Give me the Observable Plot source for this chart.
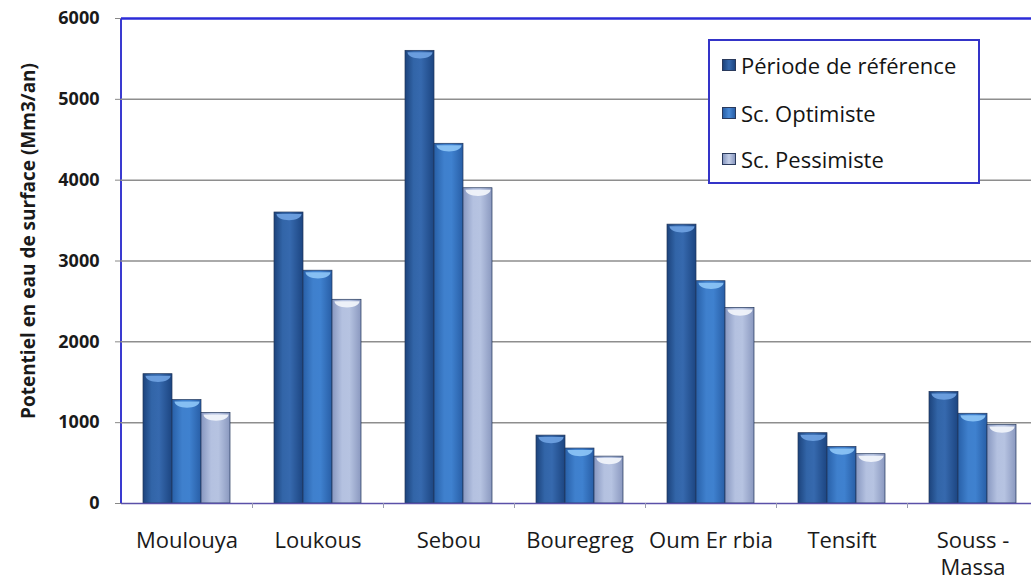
<!DOCTYPE html>
<html>
<head>
<meta charset="utf-8">
<script src="https://cdn.jsdelivr.net/npm/d3@7"></script>
<script src="https://cdn.jsdelivr.net/npm/@observablehq/plot@0.6"></script>
<style>
  body { margin: 0; background: #fff; }
  #wrap { position: relative; width: 1031px; height: 581px; overflow: hidden; font-family: "Open Sans", sans-serif; background:#fff; }
  #legend { position: absolute; left: 708px; top: 39px; width: 272px; height: 145px; border: 2px solid #3434c8; background: #fff; box-sizing: border-box; }
  .item { position: absolute; left: 12px; height: 30px; display: flex; align-items: center; font-size: 22px; color: #141414; white-space: nowrap; }
  .sw { width: 14px; height: 12px; margin-right: 5px; border: 1px solid #2a3a5c; box-sizing: border-box; }
</style>
</head>
<body>
<div id="wrap">
  <div id="chart"></div>
  <div id="legend"></div>
</div>
<script>
// ---- data ----
const regions = ["Moulouya", "Loukous", "Sebou", "Bouregreg", "Oum Er rbia", "Tensift", "Souss -\nMassa"];
const seriesNames = ["Période de référence", "Sc. Optimiste", "Sc. Pessimiste"];
const periodeReference = [1600, 3600, 5600, 840, 3450, 870, 1380];
const scOptimiste     = [1280, 2880, 4450, 680, 2750, 700, 1110];
const scPessimiste    = [1120, 2520, 3900, 580, 2420, 610, 970];
const yTicks = [0, 1000, 2000, 3000, 4000, 5000, 6000];
const gridTicks = [1000, 2000, 3000, 4000, 5000];
const yTitle = "Potentiel en eau de surface (Mm3/an)";

// ---- styles ----
const gradStops = [
  [["0%", "#1c437c"], ["30%", "#3265a8"], ["55%", "#3669ae"], ["100%", "#1c4581"]],
  [["0%", "#2860a8"], ["35%", "#3f80cd"], ["60%", "#3f81cf"], ["100%", "#285ea6"]],
  [["0%", "#8797c0"], ["35%", "#b4c1e0"], ["60%", "#b6c3e1"], ["100%", "#8a98bf"]]
];
const capColors = ["#6fa2e2", "#8cc4f6", "#f2f5fb"];
const legendBg = [
  "linear-gradient(90deg,#1c437c,#3669ae,#1c4581)",
  "linear-gradient(90deg,#2860a8,#4a8ad6,#285ea6)",
  "linear-gradient(90deg,#8797c0,#c4cfe8,#8a98bf)"
];

const allValues = [periodeReference, scOptimiste, scPessimiste];
const rowsBySeries = allValues.map((vals, s) =>
  regions.map((r, i) => ({region: r, series: seriesNames[s], value: vals[i]}))
);

// half-ellipse cap symbol (top of cylinder)
const capSymbol = {
  draw(ctx, size) {
    const r = Math.sqrt(size / Math.PI);
    const ry = r * 0.5, k = 0.5523;
    ctx.moveTo(-r, 0);
    ctx.bezierCurveTo(-r, k * ry, -k * r, ry, 0, ry);
    ctx.bezierCurveTo(k * r, ry, r, k * ry, r, 0);
    ctx.closePath();
  }
};

const step = 131, barW = 29;
const inset = (step - barW) / 2;

function defsAndFrame(index, scales, values, dims) {
  const g = d3.create("svg:g");
  const defs = g.append("defs");
  gradStops.forEach((stops, i) => {
    const lg = defs.append("linearGradient").attr("id", "grad" + i)
      .attr("x1", "0").attr("x2", "1").attr("y1", "0").attr("y2", "0");
    stops.forEach(([o, c]) => lg.append("stop").attr("offset", o).attr("stop-color", c));
  });
  g.append("line")
    .attr("x1", dims.marginLeft).attr("x2", dims.marginLeft)
    .attr("y1", dims.marginTop).attr("y2", dims.height - dims.marginBottom)
    .attr("stroke", "#3a3ad0").attr("stroke-width", 2);
  return g.node();
}

const marks = [
  defsAndFrame,
  Plot.ruleY(gridTicks, {stroke: "#8e8e8e", strokeWidth: 1.5}),
  Plot.ruleY([6000], {stroke: "#2c2cd8", strokeWidth: 2.5})
];
rowsBySeries.forEach((rows, s) => {
  const dx = (s - 1) * barW;
  marks.push(Plot.barY(rows, {
    x: "region", y: "value", dx,
    insetLeft: inset, insetRight: inset,
    fill: `url(#grad${s})`, stroke: "#22365a", strokeWidth: 0.7
  }));
  marks.push(Plot.dot(rows, {
    x: "region", y: "value", dx, dy: 1.5, r: 12.5,
    symbol: capSymbol, fill: capColors[s], fillOpacity: 0.92, stroke: "none"
  }));
});
marks.push(
  Plot.ruleY([0], {stroke: "#5a50a8", strokeWidth: 1.5}),
  Plot.axisY({ticks: yTicks, tickSize: 6, tickPadding: 16, fontSize: 18, fontWeight: "bold",
    fill: "#1a1a1a", stroke: "#888", label: null, tickFormat: d => String(d)}),
  Plot.text([yTitle], {frameAnchor: "left", textAnchor: "middle", dx: -93, dy: -20, rotate: -90,
    fontSize: 19, fontWeight: "bold", fill: "#1a1a1a", text: d => d}),
  Plot.axisX({tickSize: 0, tickPadding: 26, fontSize: 22, lineHeight: 1.2, fill: "#1a1a1a", label: null}),
  Plot.axisX({tickSize: 5, tickFormat: () => "", dx: step / 2, stroke: "#9a9ab0", label: null})
);

const chart = Plot.plot({
  width: 1031,
  height: 581,
  marginTop: 18,
  marginBottom: 78,
  marginLeft: 121,
  marginRight: 0,
  style: {fontFamily: "'Open Sans', sans-serif", background: "#fff"},
  x: {domain: regions, range: [121, 121 + step * regions.length], padding: 0, axis: null},
  y: {domain: [0, 6000], axis: null},
  marks
});
document.getElementById("chart").appendChild(chart);

// legend
const legend = document.getElementById("legend");
const tops = [9, 57, 103];
seriesNames.forEach((name, i) => {
  const it = document.createElement("div");
  it.className = "item";
  it.style.top = tops[i] + "px";
  const sw = document.createElement("span");
  sw.className = "sw";
  sw.style.background = legendBg[i];
  const tx = document.createElement("span");
  tx.textContent = name;
  it.appendChild(sw); it.appendChild(tx);
  legend.appendChild(it);
});
</script>
</body>
</html>
